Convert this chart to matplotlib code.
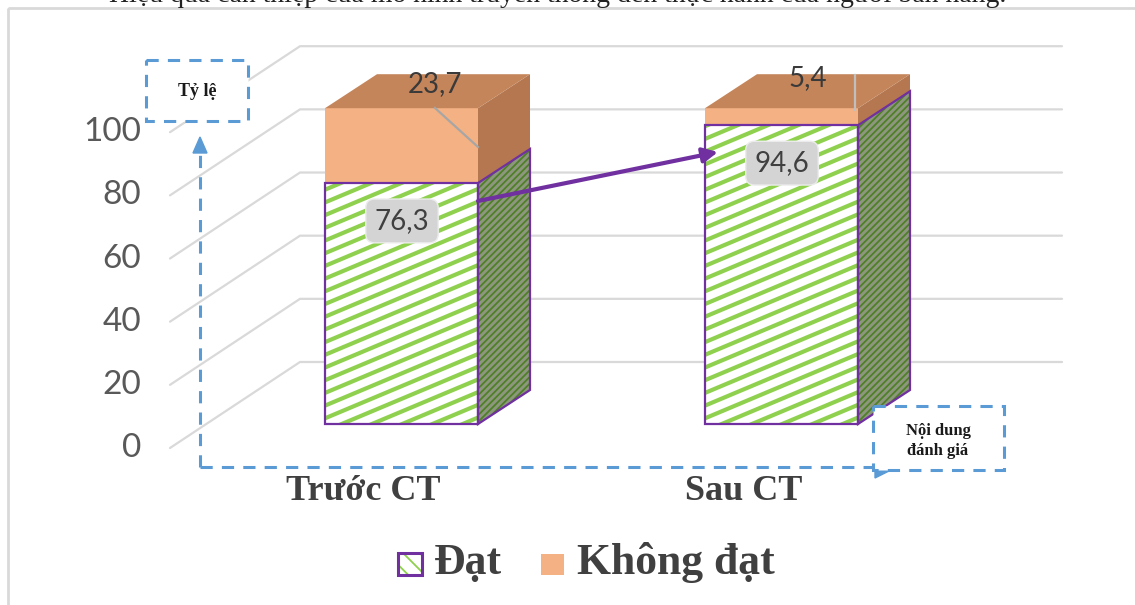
import matplotlib.pyplot as plt
import numpy as np
from matplotlib.patches import Polygon, Rectangle

# data
categories = ["Trước CT", "Sau CT"]
dat = [76.3, 94.6]
khong_dat = [23.7, 5.4]
dat_labels = ["76,3", "94,6"]
khong_labels = ["23,7", "5,4"]
yticks = [0, 20, 40, 60, 80, 100]

W, H = 1135, 605
S = 3.158   # px per percent on the bar front
Y0 = 424    # pixel row of 0 on the bar front


def v(py):
    # pixel row -> value units
    return (Y0 - py) / S


plt.rcParams['hatch.linewidth'] = 1.3
fig = plt.figure(figsize=(W / 100, H / 100), dpi=100)
ax = fig.add_axes([0, 0, 1, 1])
ax.set_xlim(0, W)
ax.set_ylim(v(H), v(0))
ax.axis('off')

# overlay in pixel coords for the annotations
ax2 = fig.add_axes([0, 0, 1, 1], zorder=5)
ax2.set_xlim(0, W)
ax2.set_ylim(H, 0)
ax2.axis('off')
ax2.patch.set_alpha(0)

# back wall + diagonal grid lines
front_off = v(448)
back_off = v(362)
for t in yticks:
    ax.plot([170, 300, 1062], [t + front_off, t + back_off, t + back_off],
            color='#d9d9d9', lw=1.6, zorder=0, solid_capstyle='round')
    ax.text(141, t + front_off, str(t), ha='right', va='center',
            fontsize=24, family='Lato', color='#595959')

# 3D stacked bars
lefts = [325, 705]
bw = 153
dx = 52
dz = 34 / S
purple = '#7030a0'
green = '#8fd14f'
slope = 0.42 / S

for i in range(len(categories)):
    x = lefts[i]
    d = dat[i]
    top = dat[i] + khong_dat[i]

    # green front, striped
    face = Rectangle((x, 0), bw, d, facecolor='white', edgecolor='none', zorder=2)
    ax.add_patch(face)
    for c in np.arange(-slope * bw - 6, d + 6, 12.7 / S):
        ln, = ax.plot([x, x + bw], [c, c + slope * bw], color=green, lw=3, zorder=3)
        ln.set_clip_path(face)
    ax.add_patch(Rectangle((x, 0), bw, d, fill=False, edgecolor=purple, lw=1.6, zorder=4))

    # green side
    side = [(x + bw, 0), (x + bw + dx, dz), (x + bw + dx, d + dz), (x + bw, d)]
    ax.add_patch(Polygon(side, facecolor='#8d977d', edgecolor='#4f7f26', hatch='/////',
                         lw=0, zorder=2))
    ax.add_patch(Polygon(side, fill=False, edgecolor=purple, lw=1.6, zorder=4))

    # orange front / side / top
    ax.add_patch(Rectangle((x, d), bw, khong_dat[i], facecolor='#f4b183',
                           edgecolor='none', zorder=2))
    ax.add_patch(Polygon([(x + bw, d), (x + bw + dx, d + dz), (x + bw + dx, top + dz),
                          (x + bw, top)], facecolor='#b5774f', edgecolor='none', zorder=2))
    ax.add_patch(Polygon([(x, top), (x + dx, top + dz), (x + bw + dx, top + dz),
                          (x + bw, top)], facecolor='#c5855a', edgecolor='none', zorder=2))

    # label for Dat
    ax.text(x + 77, d - 12, dat_labels[i],
            ha='center', va='center', fontsize=20, family='Lato', color='#404040',
            zorder=6, bbox=dict(boxstyle='round,pad=0.32', facecolor='#d4d4d4',
                                edgecolor='#ececec', lw=1))

# labels for Khong dat with leader lines
ax.plot([435, 478], [v(108), v(147)], color='#a6a6a6', lw=1.6, zorder=5)
ax.plot([855, 855], [v(75), v(110)], color='#bfbfbf', lw=1.6, zorder=5)
ax.text(435, v(84), khong_labels[0], ha='center', va='center', fontsize=20,
        family='Lato', color='#3a3a3a', zorder=6)
ax.text(808, v(78), khong_labels[1], ha='center', va='center', fontsize=20,
        family='Lato', color='#3a3a3a', zorder=6)

# category labels
for i, cat in enumerate(categories):
    ax.text(lefts[i] + bw / 2 - 38, v(491), cat, ha='center', va='center',
            fontsize=26, family='Liberation Serif', weight='bold', color='#404040')

# purple arrow between bars
ax2.annotate('', xy=(718, 152), xytext=(478, 201),
             arrowprops=dict(arrowstyle='-|>', color=purple, lw=3, mutation_scale=22,
                             shrinkA=0, shrinkB=0))

# dashed axis arrows
blue = '#5b9bd5'
ax2.plot([200, 200], [467, 150], color=blue, lw=2.2, ls=(0, (4, 3)))
ax2.plot([200, 880], [467, 467], color=blue, lw=2.2, ls=(0, (4, 3)))
ax2.add_patch(Polygon([(200, 137), (193, 153), (207, 153)], color=blue))
ax2.add_patch(Polygon([(875, 462), (875, 478), (891, 470)], color=blue))

# annotation boxes
ax2.add_patch(Rectangle((146, 60), 102, 61, facecolor='white', edgecolor=blue,
                        lw=2.2, ls=(0, (4, 3)), zorder=6))
ax2.text(197, 91, 'Tỷ lệ', ha='center', va='center', fontsize=13,
         family='Liberation Serif', weight='bold', color='#1a1a1a', zorder=7)
ax2.add_patch(Rectangle((873, 406), 131, 64, facecolor='white', edgecolor=blue,
                        lw=2.2, ls=(0, (4, 3)), zorder=6))
ax2.text(938, 441, 'Nội dung\nđánh giá', ha='center', va='center', fontsize=12,
         family='Liberation Serif', weight='bold', color='#1a1a1a', zorder=7,
         linespacing=1.3)

# legend
ax2.add_patch(Rectangle((398, 553), 24, 22, facecolor='white', edgecolor=green,
                        hatch='\\\\', lw=0))
ax2.add_patch(Rectangle((398, 553), 24, 22, fill=False, edgecolor=purple, lw=2.2))
ax2.text(434, 574, 'Đạt', ha='left', va='baseline', fontsize=31.5,
         family='Liberation Serif', weight='bold', color='#404040')
ax2.add_patch(Rectangle((541, 554), 23, 21, facecolor='#f4b183', edgecolor='none'))
ax2.text(577, 574, 'Không đạt', ha='left', va='baseline', fontsize=31.5,
         family='Liberation Serif', weight='bold', color='#404040')

# chart border and the caption line above it, cut by the top edge as in the source
ax2.add_patch(Rectangle((8, 8), 1140, 610, fill=False, edgecolor='#d9d9d9', lw=2))
ax2.text(558, 2, 'Hiệu quả can thiệp của mô hình truyền thông đến thực hành của người bán hàng.',
         ha='center', va='baseline', fontsize=20, family='Liberation Serif', color='#222222')

fig.savefig('out.png', dpi=100)
